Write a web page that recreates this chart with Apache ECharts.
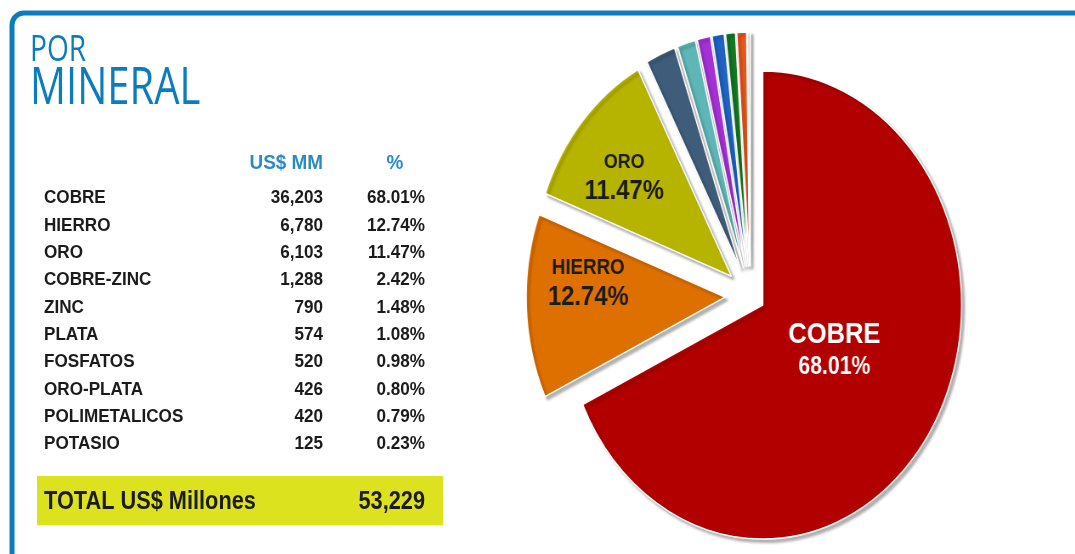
<!DOCTYPE html>
<html>
<head>
<meta charset="utf-8">
<title>Por mineral</title>
<script src="https://cdn.jsdelivr.net/npm/echarts@6/dist/echarts.min.js"></script>
<style>
html, body { margin: 0; padding: 0; background: #fff; }
#main { position: absolute; left: 0; top: 0; width: 1075px; height: 554px; }
/* the pie in the picture is an ellipse, so its box is squeezed sideways */
#pie { position: absolute; left: 452.5px; top: 0; width: 700px; height: 554px; transform: scaleX(0.85); transform-origin: 0 0; }
</style>
</head>
<body>
<div id="main"></div>
<div id="pie"></div>
<script>
var minerals = ['COBRE', 'HIERRO', 'ORO', 'COBRE-ZINC', 'ZINC', 'PLATA', 'FOSFATOS', 'ORO-PLATA', 'POLIMETALICOS', 'POTASIO'];
var valuesMM = [36203, 6780, 6103, 1288, 790, 574, 520, 426, 420, 125];
var shares = [68.01, 12.74, 11.47, 2.42, 1.48, 1.08, 0.98, 0.80, 0.79, 0.23];
var totalMM = 53229;
var headers = ['US$ MM', '%'];
var totalLabel = 'TOTAL US$ Millones';

var sliceColors = ['#b20000', '#de7000', '#b7b400', '#3f5d7a', '#5fb6b6', '#a431d6', '#1f63c4', '#127a22', '#e8561c', '#ebebeb'];
var labelShift = [[-17, -19], [-41, -19], [-36, -20]];

var font = "'Liberation Sans', Arial, sans-serif";
var blue = '#0b7dbf';

function fmt(n) { return n.toLocaleString('en-US'); }

function txt(x, y, s, size, opts) {
  opts = opts || {};
  var align = opts.align || 'left';
  return {
    type: 'text', x: x, y: y, scaleX: opts.sx || 1,
    style: {
      text: s, x: 0, y: 0,
      font: (opts.weight || 'bold') + ' ' + size + 'px ' + (opts.family || font),
      fill: opts.color || '#1b1b1b',
      align: align, textAlign: align,
      verticalAlign: 'middle', textVerticalAlign: 'middle'
    }
  };
}

// left panel: frame, title, table
var g = [];
g.push({ type: 'rect', shape: { x: 12, y: 13, width: 1200, height: 700, r: 12 },
  style: { fill: 'none', stroke: blue, lineWidth: 5 } });
g.push(txt(30, 51, 'POR', 36, { weight: 'normal', color: blue, sx: 0.78, family: "'Open Sans', 'Liberation Sans', sans-serif" }));
g.push(txt(30, 89, 'MINERAL', 52, { weight: 'normal', color: blue, sx: 0.77, family: "'Open Sans', 'Liberation Sans', sans-serif" }));

g.push(txt(323, 163, headers[0], 21, { align: 'right', color: '#2a8ac6', sx: 0.9 }));
g.push(txt(395, 163, headers[1], 21, { align: 'center', color: '#2a8ac6', sx: 0.9 }));

minerals.forEach(function (m, i) {
  var y = 198 + i * 27.33;
  g.push(txt(44, y, m, 19, { sx: 0.9 }));
  g.push(txt(323, y, fmt(valuesMM[i]), 19, { align: 'right', sx: 0.9 }));
  g.push(txt(425, y, shares[i].toFixed(2) + '%', 19, { align: 'right', sx: 0.9 }));
});

g.push({ type: 'rect', shape: { x: 37, y: 476, width: 406, height: 49 }, style: { fill: '#dde21e' } });
g.push(txt(44, 502, totalLabel, 25, { sx: 0.87 }));
g.push(txt(425, 502, fmt(totalMM), 25, { align: 'right', sx: 0.87 }));

var main = echarts.init(document.getElementById('main'));
main.setOption({ animation: false, graphic: { elements: g } });

// pie: COBRE sits almost in place, the rest are pulled out further
var labelRich = [
  { n: { fontSize: 30, fontWeight: 'bold', color: '#fff', lineHeight: 34 }, p: { fontSize: 25, fontWeight: 'bold', color: '#fff', lineHeight: 32 } },
  { n: { fontSize: 22, fontWeight: 'bold', color: '#1b1b1b', lineHeight: 28 }, p: { fontSize: 28, fontWeight: 'bold', color: '#1b1b1b', lineHeight: 30 } },
  { n: { fontSize: 21, fontWeight: 'bold', color: '#1b1b1b', lineHeight: 28 }, p: { fontSize: 28, fontWeight: 'bold', color: '#1b1b1b', lineHeight: 30 } }
];

function pieData(showBig) {
  return minerals.map(function (m, i) {
    var visible = showBig ? i === 0 : i > 0;
    var item = { name: m, value: valuesMM[i], selected: visible };
    if (visible) {
      item.itemStyle = { color: sliceColors[i], borderColor: '#fff', borderWidth: 1.5,
        shadowColor: 'rgba(0,0,0,0.3)', shadowBlur: 3, shadowOffsetX: 3, shadowOffsetY: 3 };
      item.label = labelRich[i] ? { show: true, rich: labelRich[i] } : { show: false };
    } else {
      item.itemStyle = { color: 'rgba(0,0,0,0)', borderWidth: 0, shadowColor: 'rgba(0,0,0,0)' };
      item.label = { show: false };
    }
    return item;
  });
}

function pieSeries(showBig, offset) {
  return {
    type: 'pie',
    center: ['50%', 296],
    radius: 234,
    startAngle: 90,
    clockwise: true,
    selectedMode: 'multiple',
    selectedOffset: offset,
    avoidLabelOverlap: false,
    emphasis: { disabled: true },
    label: {
      position: 'inside',
      fontFamily: font,
      formatter: function (p) {
        return '{n|' + p.name + '}\n{p|' + shares[p.dataIndex].toFixed(2) + '%}';
      }
    },
    labelLine: { show: false },
    labelLayout: function (p) {
      var s = labelShift[p.dataIndex];
      return s ? { dx: s[0], dy: s[1] } : {};
    },
    data: pieData(showBig)
  };
}

var pie = echarts.init(document.getElementById('pie'));
pie.setOption({
  animation: false,
  series: [pieSeries(true, 17), pieSeries(false, 30)]
});
</script>
</body>
</html>
